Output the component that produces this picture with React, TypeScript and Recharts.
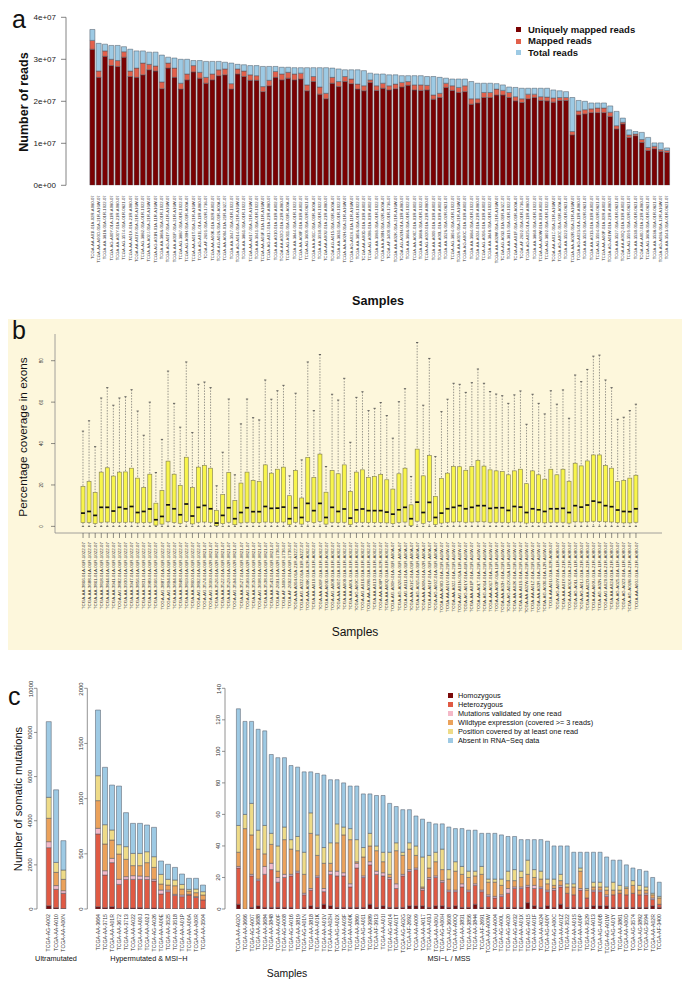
import React from 'react'
import { BarChart, Bar, XAxis, YAxis, Legend } from 'recharts'

const FONT = '"Liberation Sans", Arial, Helvetica, sans-serif'

// ---------------- panel a: read counts per sample (millions) ----------------
const aSamples = [
  'TCGA-AA-A01I-01A-02R-A080-07', 'TCGA-AA-A00O-01A-21R-A16W-07', 'TCGA-AA-3818-01A-01R-1022-07', 'TCGA-AG-A00Y-01A-11R-A080-07', 'TCGA-AA-A01Y-01A-21R-A080-07',
  'TCGA-AG-3574-01A-01R-0821-07', 'TCGA-AA-A01X-01A-21R-A080-07', 'TCGA-AA-A01V-01A-21R-A16W-07', 'TCGA-AG-3882-01A-01R-1022-07', 'TCGA-AA-A02J-01A-21R-A16W-07',
  'TCGA-AG-A01N-01A-11R-A16W-07', 'TCGA-AA-3866-01A-01R-1022-07', 'TCGA-AG-A01Y-01A-41R-A16W-07', 'TCGA-AA-A01P-01A-21R-A16W-07', 'TCGA-AG-3887-01A-01R-1022-07',
  'TCGA-AG-A00H-01A-01R-A00A-07', 'TCGA-AA-A01T-01A-21R-A16W-07', 'TCGA-AG-A01L-01A-11R-A080-07', 'TCGA-AF-2691-01A-02R-1736-07', 'TCGA-AA-A00K-01A-02R-A002-07',
  'TCGA-AG-A026-01A-01R-A00A-07', 'TCGA-AA-A004-01A-21R-A32Z-07', 'TCGA-AA-3947-01A-01R-1022-07', 'TCGA-AG-A014-01A-21R-A16W-07', 'TCGA-AA-3861-01A-01R-1022-07',
  'TCGA-AA-A017-01A-21R-A16W-07', 'TCGA-AA-3941-01A-01R-1022-07', 'TCGA-AA-A03F-01A-11R-A16W-07', 'TCGA-AG-A01J-01A-21R-A080-07', 'TCGA-AA-A010-01A-01R-A002-07',
  'TCGA-AA-A02O-01A-21R-A080-07', 'TCGA-AG-A011-01A-01R-A00A-07', 'TCGA-AA-3844-01A-01R-1022-07', 'TCGA-AA-A00F-01A-01R-A002-07', 'TCGA-AG-3609-01A-02R-0821-07',
  'TCGA-AA-A01C-01A-01R-A00A-07', 'TCGA-AA-3930-01A-01R-1022-07', 'TCGA-AA-A00U-01A-21R-A080-07', 'TCGA-AG-A015-01A-01R-A00A-07', 'TCGA-AA-3831-01A-01R-1022-07',
  'TCGA-AA-A02H-01A-21R-A16W-07', 'TCGA-AG-A02X-01A-11R-A16W-07', 'TCGA-AA-3856-01A-01R-1022-07', 'TCGA-AA-A00D-01A-01R-A002-07', 'TCGA-AG-A008-01A-01R-A002-07',
  'TCGA-AA-3989-01A-01R-1022-07', 'TCGA-AA-A00N-01A-02R-A00A-07', 'TCGA-AF-3400-01A-01R-1736-07', 'TCGA-AA-A02K-01A-21R-A16W-07', 'TCGA-AG-A02N-01A-11R-A080-07',
  'TCGA-AA-3666-01A-01R-1022-07', 'TCGA-AA-A00Z-01A-01R-A002-07', 'TCGA-AA-3688-01A-01R-1022-07', 'TCGA-AG-A020-01A-21R-A080-07', 'TCGA-AA-A009-01A-01R-A002-07',
  'TCGA-AA-A00L-01A-01R-A002-07', 'TCGA-AA-3526-01A-02R-0821-07', 'TCGA-AG-3894-01A-01R-1022-07', 'TCGA-AA-A01S-01A-21R-A16W-07', 'TCGA-AG-A00C-01A-01R-A002-07',
  'TCGA-AA-3684-01A-01R-1022-07', 'TCGA-AA-A024-01A-21R-A080-07', 'TCGA-AG-A016-01A-01R-A002-07', 'TCGA-AA-3848-01A-01R-1022-07', 'TCGA-AA-A02W-01A-21R-A16W-07',
  'TCGA-AG-A032-01A-01R-A32Z-07', 'TCGA-AA-3819-01A-01R-1022-07', 'TCGA-AA-A01F-01A-01R-A00A-07', 'TCGA-AF-2692-01A-01R-1736-07', 'TCGA-AG-A025-01A-11R-A080-07',
  'TCGA-AA-3860-01A-01R-1022-07', 'TCGA-AA-A00W-01A-01R-A002-07', 'TCGA-AG-3892-01A-01R-1022-07', 'TCGA-AA-A01Z-01A-21R-A16W-07', 'TCGA-AG-A00Z-01A-01R-A00A-07',
  'TCGA-AA-3522-01A-01R-0821-07', 'TCGA-AA-A02R-01A-21R-A16W-07', 'TCGA-AG-A023-01A-11R-A080-07', 'TCGA-AA-3529-01A-02R-0821-07', 'TCGA-AA-A013-01A-01R-A002-07',
  'TCGA-AG-3594-01A-02R-0821-07', 'TCGA-AA-A00P-01A-02R-A002-07', 'TCGA-AG-A01W-01A-21R-A080-07', 'TCGA-AA-3527-01A-01R-0821-07', 'TCGA-AA-A00Q-01A-01R-A002-07',
  'TCGA-AG-3599-01A-02R-0821-07', 'TCGA-AA-3530-01A-01R-0821-07', 'TCGA-AA-A00J-01A-21R-A080-07', 'TCGA-AG-3608-01A-01R-0821-07', 'TCGA-AA-3538-01A-01R-0821-07',
  'TCGA-AG-A036-01A-12R-A16W-07', 'TCGA-AA-3543-01A-01R-0821-07',
]
const aTotal = [
  37.1, 33.8, 33.6, 33.3, 33.3, 33.0, 32.4, 32.0, 32.0, 31.7,
  31.7, 31.0, 30.5, 30.3, 30.0, 30.0, 29.7, 29.7, 29.5, 29.5,
  29.5, 29.3, 29.1, 28.8, 28.7, 28.5, 28.5, 28.3, 28.3, 28.3,
  28.1, 28.1, 28.0, 28.0, 28.0, 28.0, 28.0, 28.0, 27.9, 27.7,
  27.5, 27.5, 27.5, 27.3, 26.7, 26.5, 26.5, 26.3, 26.3, 26.1,
  26.1, 26.1, 26.1, 25.9, 25.9, 25.7, 25.5, 25.3, 25.3, 25.3,
  24.7, 24.3, 24.3, 24.3, 24.2, 23.9, 23.4, 23.3, 23.1, 23.1,
  23.1, 23.1, 23.1, 22.7, 22.5, 22.3, 20.9, 20.2, 20.0, 19.6,
  19.6, 19.6, 18.9, 17.6, 16.0, 13.2, 12.8, 12.6, 11.4, 10.1,
  10.1, 8.9,
]
const aMapped = [
  34.5, 27.2, 32.0, 30.0, 29.7, 31.8, 27.2, 27.9, 29.1, 28.8,
  28.4, 24.6, 29.1, 27.9, 24.3, 26.5, 28.5, 26.9, 25.7, 26.5,
  27.5, 27.7, 24.2, 27.7, 27.2, 26.3, 26.1, 23.5, 25.0, 27.1,
  26.5, 26.9, 26.5, 26.7, 23.9, 25.9, 23.4, 21.9, 25.7, 24.7,
  25.9, 25.3, 24.1, 23.7, 25.1, 23.7, 24.3, 23.7, 24.1, 24.5,
  24.7, 23.9, 23.9, 23.8, 21.5, 21.9, 24.3, 23.7, 23.3, 23.7,
  20.6, 20.6, 22.1, 22.1, 22.9, 22.6, 22.1, 21.1, 20.6, 21.7,
  21.7, 21.1, 21.0, 20.8, 20.9, 20.9, 12.8, 17.7, 18.0, 18.2,
  18.4, 18.4, 17.4, 14.2, 15.0, 12.0, 12.2, 10.9, 9.0, 9.3,
  8.5, 8.3,
]
const aUnique = [
  32.4, 25.7, 30.7, 28.5, 28.3, 30.5, 25.9, 25.7, 26.3, 27.5,
  27.2, 23.0, 27.9, 25.7, 22.9, 25.1, 27.0, 25.5, 24.3, 25.1,
  26.1, 26.3, 22.9, 26.5, 25.9, 25.0, 25.0, 22.3, 23.7, 25.7,
  25.1, 25.5, 25.1, 25.3, 22.5, 24.7, 21.7, 20.6, 24.3, 23.5,
  24.7, 24.2, 22.9, 22.5, 24.5, 22.6, 23.1, 22.7, 23.0, 23.4,
  23.8, 22.7, 22.6, 22.7, 20.5, 20.9, 23.3, 22.6, 22.1, 22.3,
  19.3, 19.6, 20.9, 20.9, 21.5, 21.5, 20.9, 20.1, 19.7, 20.6,
  20.9, 20.2, 20.1, 19.8, 20.2, 20.2, 12.0, 16.8, 17.0, 17.3,
  17.3, 17.3, 16.4, 13.4, 14.6, 11.4, 11.8, 10.2, 8.3, 8.7,
  8.1, 7.8,
]
const aSeries = ['Uniquely mapped reads', 'Mapped reads', 'Total reads']
const aColors = ['#7a0102', '#e2604b', '#9dcae4']
const aTicks = [0, 1e7, 2e7, 3e7, 4e7]

// ---------------- panel b: coverage boxplots ----------------
const bSamples = [
  'TCGA-AA-3866-01A-01R-1022-07', 'TCGA-AA-3688-01A-01R-1022-07', 'TCGA-AA-3861-01A-01R-1022-07', 'TCGA-AA-3818-01A-01R-1022-07', 'TCGA-AA-3844-01A-01R-1022-07',
  'TCGA-AA-3941-01A-01R-1022-07', 'TCGA-AG-3882-01A-01R-1022-07', 'TCGA-AA-3930-01A-01R-1022-07', 'TCGA-AA-3947-01A-01R-1022-07', 'TCGA-AA-3856-01A-01R-1022-07',
  'TCGA-AA-3831-01A-01R-1022-07', 'TCGA-AA-3989-01A-01R-1022-07', 'TCGA-AA-3666-01A-01R-1022-07', 'TCGA-AG-3887-01A-01R-1022-07', 'TCGA-AG-3894-01A-01R-1022-07',
  'TCGA-AA-3684-01A-01R-1022-07', 'TCGA-AA-3848-01A-01R-1022-07', 'TCGA-AA-3819-01A-01R-1022-07', 'TCGA-AA-3860-01A-01R-1022-07', 'TCGA-AG-3892-01A-01R-1022-07',
  'TCGA-AG-3574-01A-01R-0821-07', 'TCGA-AG-3609-01A-02R-0821-07', 'TCGA-AA-3526-01A-02R-0821-07', 'TCGA-AA-3522-01A-01R-0821-07', 'TCGA-AA-3529-01A-02R-0821-07',
  'TCGA-AG-3594-01A-02R-0821-07', 'TCGA-AA-3527-01A-01R-0821-07', 'TCGA-AG-3599-01A-02R-0821-07', 'TCGA-AA-3530-01A-01R-0821-07', 'TCGA-AG-3608-01A-01R-0821-07',
  'TCGA-AA-3538-01A-01R-0821-07', 'TCGA-AA-3543-01A-01R-0821-07', 'TCGA-AF-2691-01A-02R-1736-07', 'TCGA-AF-3400-01A-01R-1736-07', 'TCGA-AF-2692-01A-01R-1736-07',
  'TCGA-AA-A004-01A-21R-A32Z-07', 'TCGA-AG-A032-01A-01R-A32Z-07', 'TCGA-AA-A00K-01A-02R-A002-07', 'TCGA-AA-A010-01A-01R-A002-07', 'TCGA-AA-A00F-01A-01R-A002-07',
  'TCGA-AA-A00D-01A-01R-A002-07', 'TCGA-AG-A008-01A-01R-A002-07', 'TCGA-AA-A00Z-01A-01R-A002-07', 'TCGA-AA-A009-01A-01R-A002-07', 'TCGA-AA-A00L-01A-01R-A002-07',
  'TCGA-AG-A00C-01A-01R-A002-07', 'TCGA-AG-A016-01A-01R-A002-07', 'TCGA-AA-A00W-01A-01R-A002-07', 'TCGA-AA-A013-01A-01R-A002-07', 'TCGA-AA-A00P-01A-02R-A002-07',
  'TCGA-AA-A00Q-01A-01R-A002-07', 'TCGA-AG-A00H-01A-01R-A00A-07', 'TCGA-AG-A026-01A-01R-A00A-07', 'TCGA-AG-A011-01A-01R-A00A-07', 'TCGA-AA-A01C-01A-01R-A00A-07',
  'TCGA-AG-A015-01A-01R-A00A-07', 'TCGA-AA-A00N-01A-02R-A00A-07', 'TCGA-AA-A01F-01A-01R-A00A-07', 'TCGA-AG-A00Z-01A-01R-A00A-07', 'TCGA-AA-A00O-01A-21R-A16W-07',
  'TCGA-AA-A01V-01A-21R-A16W-07', 'TCGA-AA-A02J-01A-21R-A16W-07', 'TCGA-AG-A01N-01A-11R-A16W-07', 'TCGA-AG-A01Y-01A-41R-A16W-07', 'TCGA-AA-A01P-01A-21R-A16W-07',
  'TCGA-AA-A01T-01A-21R-A16W-07', 'TCGA-AG-A014-01A-21R-A16W-07', 'TCGA-AA-A017-01A-21R-A16W-07', 'TCGA-AA-A03F-01A-11R-A16W-07', 'TCGA-AA-A02H-01A-21R-A16W-07',
  'TCGA-AG-A02X-01A-11R-A16W-07', 'TCGA-AA-A02K-01A-21R-A16W-07', 'TCGA-AA-A01S-01A-21R-A16W-07', 'TCGA-AA-A02W-01A-21R-A16W-07', 'TCGA-AA-A01Z-01A-21R-A16W-07',
  'TCGA-AA-A02R-01A-21R-A16W-07', 'TCGA-AG-A036-01A-12R-A16W-07', 'TCGA-AA-A01I-01A-02R-A080-07', 'TCGA-AG-A00Y-01A-11R-A080-07', 'TCGA-AA-A01Y-01A-21R-A080-07',
  'TCGA-AA-A01X-01A-21R-A080-07', 'TCGA-AG-A01L-01A-11R-A080-07', 'TCGA-AG-A01J-01A-21R-A080-07', 'TCGA-AA-A02O-01A-21R-A080-07', 'TCGA-AA-A00U-01A-21R-A080-07',
  'TCGA-AG-A02N-01A-11R-A080-07', 'TCGA-AG-A020-01A-21R-A080-07', 'TCGA-AA-A024-01A-21R-A080-07', 'TCGA-AG-A025-01A-11R-A080-07', 'TCGA-AG-A023-01A-11R-A080-07',
  'TCGA-AG-A01W-01A-21R-A080-07', 'TCGA-AA-A00J-01A-21R-A080-07',
]
const bUpper = [
  46, 51, 38.5, 62, 67, 58.5, 62, 62.6, 66, 55.7,
  44, 60, 26, 42, 75, 59.4, 47.9, 79.4, 45.3, 68.6,
  69.7, 67, 19.6, 35.8, 61.5, 24.9, 49.5, 61.5, 52.5, 51.4,
  70.7, 61.4, 65.5, 68.1, 24.4, 64.3, 32.1, 79.4, 55.9, 83,
  28.9, 63.8, 61, 71.5, 40.6, 62.3, 65, 55.9, 57, 59.8,
  53.5, 42.6, 60.2, 66.5, 24.1, 88.8, 58.5, 81.1, 33.7, 55.4,
  61.4, 69.1, 68.6, 64.7, 69.4, 76, 69.1, 65.1, 63.9, 63.1,
  59.4, 63.5, 65.4, 49.3, 63.8, 59.4, 54.3, 65.5, 59, 65.9,
  52.2, 73.1, 69.9, 75.8, 82.2, 82.7, 70.7, 67, 51.7, 52.7,
  55.9, 59,
]
const bQ3 = [
  19.3, 21.7, 16.4, 26.2, 28.3, 24.3, 26.2, 26.3, 28.1, 23.3,
  18.8, 25.2, 11.2, 17.3, 31.5, 25.2, 19.8, 33.4, 18.8, 28.6,
  29.4, 28.1, 7.7, 15.3, 26, 12.4, 20.9, 26.2, 22.2, 21.7,
  29.7, 25.7, 27.6, 28.6, 14.8, 27, 13.7, 33.3, 23.6, 34.9,
  16.5, 27, 25.4, 29.7, 16.9, 26.2, 27.3, 23.6, 24.1, 25.1,
  22.5, 18, 25.4, 28.1, 10.4, 37.3, 24.4, 34.2, 14.5, 23.1,
  25.7, 28.9, 28.8, 27.1, 28.9, 31.8, 29.1, 27.3, 26.8, 26.5,
  24.9, 26.8, 27.6, 20.6, 26.8, 24.9, 22.8, 27.6, 24.9, 27.6,
  21.8, 30.5, 29.2, 31.6, 34.5, 34.5, 29.4, 28.1, 21.7, 22.2,
  23.3, 24.7,
]
const bMedian = [
  6.4, 7.2, 5.3, 9.2, 9.2, 7.4, 9.2, 8.5, 9.6, 6.7,
  7.2, 8.4, 3.2, 4.8, 10.4, 8.5, 5.6, 10.8, 5, 9.2,
  10.1, 8.5, 1.6, 5.3, 9, 3.7, 6.7, 9, 7.1, 7.1,
  9.6, 8.7, 8.8, 9.3, 3.7, 9, 4.3, 11.1, 7.6, 11.1,
  4.3, 9.2, 7.2, 8.4, 4, 8, 8.4, 7.6, 7.6, 7.6,
  6.9, 5.9, 8, 9.2, 3.7, 11.7, 6.7, 11.6, 4.3, 6.4,
  8.5, 9.2, 10, 8.5, 9.2, 10, 10, 8.7, 9, 9,
  7.7, 9.6, 9.3, 6.7, 8.5, 8, 7.2, 8.5, 8.5, 8.7,
  6.7, 10, 9.3, 10.3, 12.2, 11.6, 10, 9.5, 7.9, 7.2,
  7.1, 8.5,
]
const bQ1 = [
  1.8, 1.9, 1.4, 2, 2.1, 1.9, 2, 2, 2.1, 1.7,
  1.8, 2, 0.6, 1.1, 2.2, 1.9, 1.5, 2.3, 1.2, 2,
  2.1, 2, 0.3, 1.3, 2, 0.8, 1.7, 2, 1.8, 1.8,
  2.1, 2, 2, 2.1, 0.9, 2, 1.1, 2.3, 1.8, 2.4,
  1.1, 2, 1.8, 2, 0.9, 1.9, 2, 1.8, 1.8, 1.9,
  1.7, 1.3, 1.9, 2.1, 0.5, 2.5, 1.5, 2.4, 0.9, 1.6,
  2, 2.1, 2.2, 2, 2.1, 2.2, 2.2, 2, 2, 2,
  1.8, 2.1, 2.1, 1.6, 2, 1.9, 1.7, 2, 2, 2,
  1.6, 2.2, 2.1, 2.2, 2.5, 2.4, 2.2, 2.1, 1.8, 1.7,
  1.7, 2,
]
const bLower = 0 // every lower whisker sits at 0 %
const bTicks = [0, 20, 40, 60, 80]

// ---------------- panel c: somatic mutations ----------------
const cCategories = [
  'Homozygous',
  'Heterozygous',
  'Mutations validated by one read',
  'Wildtype expression (covered >= 3 reads)',
  'Position covered by at least one read',
  'Absent in RNA\u2212Seq data',
]
const cColors = ['#7b0a0a', '#e05a44', '#f4b9c8', '#eba25b', '#eedb88', '#9ecae4']

const uSamples = ['TCGA-AG-A002', 'TCGA-AA-A010', 'TCGA-AA-A00N']
const uHomo = [150, 60, 20]
const uHet = [2630, 830, 690]
const uOne = [270, 170, 120]
const uWild = [1060, 600, 514]
const uCov = [950, 450, 423]
const uAbs = [3430, 3290, 1329]

const hSamples = [
  'TCGA-AA-3664', 'TCGA-AA-3715', 'TCGA-AA-A01R', 'TCGA-AA-3672', 'TCGA-AA-3713', 'TCGA-AA-A022', 'TCGA-AA-A00J', 'TCGA-AA-A02J',
  'TCGA-AG-A026', 'TCGA-AA-A00E', 'TCGA-AA-3525', 'TCGA-AA-3518', 'TCGA-AA-A01P', 'TCGA-AA-A00A', 'TCGA-AA-A00R', 'TCGA-AA-3504',
]
const hHomo = [21, 12, 21, 6, 9, 9, 12, 6, 9, 6, 3, 3, 3, 6, 3, 6]
const hHet = [659, 296, 399, 217, 260, 260, 257, 263, 245, 130, 154, 121, 109, 121, 103, 76]
const hOne = [51, 39, 39, 46, 24, 33, 30, 24, 15, 36, 15, 9, 15, 6, 6, 0]
const hWild = [251, 242, 166, 229, 157, 91, 94, 127, 108, 54, 45, 78, 54, 30, 36, 45]
const hCov = [226, 175, 91, 85, 115, 111, 111, 99, 97, 88, 52, 52, 42, 15, 33, 30]
const hAbs = [595, 520, 407, 531, 308, 272, 272, 242, 266, 121, 136, 114, 94, 100, 97, 60]

const mSamples = [
  'TCGA-AA-A02O', 'TCGA-AA-3666', 'TCGA-AG-A007', 'TCGA-AA-3688', 'TCGA-AA-3684', 'TCGA-AA-3848', 'TCGA-AA-A00F', 'TCGA-AG-A008', 'TCGA-AG-A016', 'TCGA-AA-3819',
  'TCGA-AG-A01N', 'TCGA-AA-3818', 'TCGA-AA-A01K', 'TCGA-AA-A01V', 'TCGA-AA-A02H', 'TCGA-AG-A02X', 'TCGA-AA-A03F', 'TCGA-AA-A00K', 'TCGA-AA-3860', 'TCGA-AG-A011',
  'TCGA-AA-3989', 'TCGA-AF-3913', 'TCGA-AA-A01I', 'TCGA-AG-A014', 'TCGA-AA-A01T', 'TCGA-AG-A02G', 'TCGA-AF-2692', 'TCGA-AA-A009', 'TCGA-AA-A017', 'TCGA-AA-A03J',
  'TCGA-AA-A00U', 'TCGA-AG-A00H', 'TCGA-AG-3608', 'TCGA-AA-A00Q', 'TCGA-AA-3831', 'TCGA-AA-3856', 'TCGA-AA-3844', 'TCGA-AF-2691', 'TCGA-AA-A00W', 'TCGA-AA-A004',
  'TCGA-AG-A00L', 'TCGA-AG-A020', 'TCGA-AG-A032', 'TCGA-AA-A01X', 'TCGA-AG-A015', 'TCGA-AA-A01F', 'TCGA-AA-A024', 'TCGA-AG-A00Y', 'TCGA-AG-A00C', 'TCGA-AA-A01Z',
  'TCGA-AA-3522', 'TCGA-AA-A01S', 'TCGA-AA-A00P', 'TCGA-AA-3529', 'TCGA-AA-A013', 'TCGA-AG-A00B', 'TCGA-AG-A01W', 'TCGA-AG-A01Y', 'TCGA-AA-3861', 'TCGA-AA-A00D',
  'TCGA-AG-3574', 'TCGA-AG-3892', 'TCGA-AG-3594', 'TCGA-AA-A02R', 'TCGA-AF-3400',
]
const mHomo = [
  3, 0, 1, 2, 1, 1, 1, 1, 1, 0, 1, 2, 1, 3, 2, 1, 1, 1, 1, 1,
  3, 1, 2, 1, 1, 1, 2, 2, 2, 1, 2, 2, 1, 2, 1, 1, 3, 1, 1, 1,
  1, 1, 1, 1, 4, 2, 1, 2, 1, 3, 1, 1, 1, 1, 2, 2, 2, 1, 1, 1,
  1, 1, 1, 2, 1,
]
const mHet = [
  23, 0, 20, 16, 21, 24, 16, 19, 20, 23, 8, 10, 19, 8, 20, 20, 20, 13, 25, 19,
  25, 21, 19, 18, 12, 20, 22, 23, 10, 18, 18, 15, 10, 9, 13, 10, 12, 10, 7, 6,
  7, 9, 12, 12, 10, 11, 12, 9, 11, 11, 9, 8, 11, 6, 9, 9, 6, 8, 9, 8,
  9, 8, 8, 4, 2,
]
const mOne = [
  1, 0, 1, 1, 5, 4, 3, 2, 1, 1, 1, 1, 1, 2, 2, 3, 2, 2, 3, 1,
  2, 2, 2, 1, 3, 1, 1, 1, 1, 1, 1, 1, 1, 1, 2, 1, 1, 1, 1, 1,
  1, 3, 1, 1, 1, 2, 1, 1, 1, 1, 0, 0, 1, 0, 1, 1, 1, 0, 0, 0,
  0, 0, 1, 1, 0,
]
const mWild = [
  9, 51, 25, 19, 8, 12, 4, 22, 16, 13, 12, 35, 13, 16, 5, 18, 24, 28, 1, 12,
  10, 13, 7, 2, 21, 12, 13, 8, 1, 6, 9, 7, 7, 12, 6, 8, 5, 10, 8, 9,
  6, 5, 4, 6, 7, 5, 5, 4, 2, 3, 4, 5, 11, 5, 2, 2, 3, 3, 2, 4,
  5, 3, 2, 2, 4,
]
const mCov = [
  17, 9, 20, 12, 18, 7, 16, 8, 6, 9, 14, 13, 13, 10, 13, 12, 5, 7, 14, 6,
  8, 3, 6, 14, 5, 2, 4, 6, 19, 8, 6, 13, 6, 6, 5, 4, 3, 5, 2, 2,
  4, 6, 7, 4, 9, 5, 5, 3, 4, 4, 2, 2, 2, 1, 3, 3, 2, 5, 3, 1,
  3, 3, 2, 1, 1,
]
const mAbs = [
  74, 59, 52, 64, 60, 50, 56, 44, 47, 44, 51, 26, 39, 46, 40, 28, 28, 27, 34, 34,
  25, 32, 36, 31, 23, 27, 21, 19, 24, 21, 18, 16, 27, 21, 24, 26, 26, 21, 29, 29,
  28, 22, 21, 20, 13, 19, 20, 24, 21, 18, 24, 20, 10, 23, 19, 19, 19, 14, 16, 14,
  8, 10, 10, 10, 9,
]

const uTicks = [0, 2000, 4000, 6000, 8000, 10000]
const hTicks = [0, 500, 1000, 1500, 2000]
const mTicks = [0, 20, 40, 60, 80, 100, 120, 140]

// ---------------- tables for the library ----------------
const aRows = aSamples.map((s, i) => ({
  sample: s,
  unique: aUnique[i] * 1e6,
  mapped: (aMapped[i] - aUnique[i]) * 1e6,
  total: (aTotal[i] - aMapped[i]) * 1e6,
}))
const aKeys = ['unique', 'mapped', 'total']

const bRows = bSamples.map((s, i) => ({
  sample: s,
  lower: bLower,
  q1: bQ1[i],
  median: bMedian[i],
  q3: bQ3[i],
  upper: bUpper[i],
}))

function mutRows(samples: string[], cols: number[][]) {
  return samples.map((s, i) => {
    const row: any = { sample: s }
    cols.forEach((c, k) => (row['c' + k] = c[i]))
    return row
  })
}
const uRows = mutRows(uSamples, [uHomo, uHet, uOne, uWild, uCov, uAbs])
const hRows = mutRows(hSamples, [hHomo, hHet, hOne, hWild, hCov, hAbs])
const mRows = mutRows(mSamples, [mHomo, mHet, mOne, mWild, mCov, mAbs])

// ---------------- small drawing helpers ----------------
function VLabel(props: any) {
  const { x, y, payload, fs } = props
  const bx = x + fs * 0.35
  return (
    <text x={bx} y={y} transform={`rotate(-90, ${bx}, ${y})`} textAnchor="end" fontSize={fs} fill="#333" fontFamily={FONT}>
      {payload.value}
    </text>
  )
}

function YVLabel(props: any) {
  const { x, y, payload, fs } = props
  return (
    <text x={x} y={y} transform={`rotate(-90, ${x}, ${y})`} textAnchor="middle" fontSize={fs} fill="#333" fontFamily={FONT}>
      {payload.value}
    </text>
  )
}

function BoxShape(props: any) {
  const { x, y, width, height, payload } = props
  if (!payload || !isFinite(y) || !isFinite(height)) return null
  const top = Math.min(y, y + height)
  const bottom = Math.max(y, y + height)
  const at = (v: number) => bottom - ((bottom - top) * (v - payload.lower)) / (payload.upper - payload.lower)
  const cx = x + width / 2
  const cap = width * 0.28
  const yQ3 = at(payload.q3)
  const yQ1 = at(payload.q1)
  const yMed = at(payload.median)
  return (
    <g>
      <line x1={cx} x2={cx} y1={top} y2={yQ3} stroke="#555" strokeWidth={0.6} strokeDasharray="1.5 1.3" />
      <line x1={cx - cap} x2={cx + cap} y1={top} y2={top} stroke="#444" strokeWidth={0.8} />
      <line x1={cx} x2={cx} y1={yQ1} y2={bottom} stroke="#555" strokeWidth={0.6} strokeDasharray="1.5 1.3" />
      <line x1={cx - cap} x2={cx + cap} y1={bottom} y2={bottom} stroke="#444" strokeWidth={0.8} />
      <rect x={x} y={yQ3} width={width} height={Math.max(0.5, yQ1 - yQ3)} fill="#f8f54c" stroke="#7d7a4e" strokeWidth={0.6} />
      <line x1={x} x2={x + width} y1={yMed} y2={yMed} stroke="#111" strokeWidth={1.7} />
    </g>
  )
}

function SwatchLegend({ names, colors, fs, rowH, box, gap, bold }: any) {
  return (
    <div style={{ fontFamily: FONT, fontSize: fs, fontWeight: bold ? 'bold' : 'normal', color: '#111', lineHeight: 1 }}>
      {names.map((n: string, i: number) => (
        <div key={n} style={{ display: 'flex', alignItems: 'center', height: rowH, whiteSpace: 'nowrap' }}>
          <span style={{ display: 'inline-block', width: box, height: box, background: colors[i], marginRight: gap }} />
          {n}
        </div>
      ))}
    </div>
  )
}

function MutationChart(props: any) {
  const { rows, left, width, yMax, ticks, mLeft, mRight, padL, padR, legend } = props
  return (
    <div style={{ position: 'absolute', left, top: 680 }}>
      <BarChart width={width} height={280} data={rows} margin={{ top: 8.3, right: mRight, left: mLeft, bottom: 6 }} barCategoryGap="17%">
        <XAxis
          dataKey="sample"
          interval={0}
          height={45}
          padding={{ left: padL, right: padR }}
          axisLine={false}
          tickLine={false}
          tickSize={0}
          tickMargin={5}
          tick={(p: any) => <VLabel {...p} fs={5.2} />}
        />
        <YAxis
          domain={[0, yMax]}
          ticks={ticks}
          allowDataOverflow
          width={22}
          axisLine={{ stroke: '#777', strokeWidth: 0.8 }}
          tickLine={{ stroke: '#777', strokeWidth: 0.8 }}
          tickSize={3}
          tickMargin={1.5}
          tick={(p: any) => <YVLabel {...p} fs={6} />}
        />
        {cCategories.map((c, k) => (
          <Bar key={c} dataKey={'c' + k} name={c} stackId="s" fill={cColors[k]} stroke="#505560" strokeWidth={0.5} isAnimationActive={false} />
        ))}
        {legend ? (
          <Legend
            layout="vertical"
            align="center"
            verticalAlign="middle"
            wrapperStyle={{ left: 258, top: 11.5, width: 200, height: 54 }}
            content={() => <SwatchLegend names={cCategories} colors={cColors} fs={7.3} rowH={8.9} box={5} gap={5} />}
          />
        ) : null}
      </BarChart>
    </div>
  )
}

const sci = (v: number) => (v === 0 ? '0e+00' : `${v / 1e7}e+07`)

export default function App() {
  return (
    <div style={{ position: 'absolute', left: 0, top: 0, width: 682, height: 994, background: '#fff', fontFamily: FONT, overflow: 'hidden' }}>
      {/* panel a */}
      <div style={{ position: 'absolute', left: 0, top: 0 }}>
        <BarChart width={682} height={320} data={aRows} margin={{ top: 17.3, right: 8, left: 26, bottom: 14 }} barCategoryGap="14%">
          <XAxis
            dataKey="sample"
            interval={0}
            height={120.7}
            padding={{ left: 23, right: 4 }}
            axisLine={false}
            tickLine={false}
            tickSize={4}
            tickMargin={6}
            tick={(p: any) => <VLabel {...p} fs={4.2} />}
          />
          <YAxis
            domain={[0, 4e7]}
            ticks={aTicks}
            tickFormatter={sci}
            allowDataOverflow
            width={40}
            axisLine={{ stroke: '#666', strokeWidth: 0.8 }}
            tickLine={{ stroke: '#666', strokeWidth: 0.8 }}
            tickSize={5}
            tickMargin={5}
            tick={{ fontSize: 8, fill: '#222', fontFamily: FONT }}
          />
          {aKeys.map((k, i) => (
            <Bar key={k} dataKey={k} name={aSeries[i]} stackId="a" fill={aColors[i]} stroke="#4b5560" strokeWidth={0.5} isAnimationActive={false} />
          ))}
          <Legend
            layout="vertical"
            align="center"
            verticalAlign="middle"
            wrapperStyle={{ left: 516, top: 23.5, width: 160, height: 36 }}
            content={() => <SwatchLegend names={aSeries} colors={aColors} fs={9.5} rowH={11.7} box={5} gap={7} bold />}
          />
        </BarChart>
      </div>

      {/* panel b */}
      <div style={{ position: 'absolute', left: 8, top: 319, width: 674, height: 331, background: '#fdf7dc' }} />
      <div style={{ position: 'absolute', left: 0, top: 300 }}>
        <BarChart width={682} height={340} data={bRows} margin={{ top: 34, right: 20, left: 15, bottom: 7 }} barCategoryGap="16%">
          <XAxis
            dataKey="sample"
            interval={0}
            height={100}
            padding={{ left: 25, right: 23 }}
            axisLine={{ stroke: '#8a8a8a', strokeWidth: 0.8 }}
            tickLine={{ stroke: '#444', strokeWidth: 0.6 }}
            tickSize={5}
            tickMargin={4}
            tick={(p: any) => <VLabel {...p} fs={4.4} />}
          />
          <XAxis xAxisId="top" orientation="top" dataKey="sample" height={0} tick={false} tickLine={false} axisLine={{ stroke: '#8a8a8a', strokeWidth: 0.8 }} />
          <YAxis
            domain={[-3.2, 92.9]}
            ticks={bTicks}
            allowDataOverflow
            width={40}
            axisLine={{ stroke: '#8a8a8a', strokeWidth: 0.8 }}
            tickLine={{ stroke: '#444', strokeWidth: 0.6 }}
            tickSize={4}
            tickMargin={7.5}
            tick={(p: any) => <YVLabel {...p} fs={4.6} />}
          />
          <YAxis yAxisId="right" orientation="right" width={0} domain={[0, 1]} tick={false} tickLine={false} axisLine={{ stroke: '#8a8a8a', strokeWidth: 0.8 }} />
          <Bar dataKey={(d: any) => [d.lower, d.upper]} shape={(p: any) => <BoxShape {...p} />} isAnimationActive={false} />
        </BarChart>
      </div>

      {/* panel c */}
      <MutationChart rows={uRows} left={0} width={75} yMax={10000} ticks={uTicks} mLeft={15} mRight={5} padL={8} padR={3} />
      <MutationChart rows={hRows} left={50} width={170} yMax={2000} ticks={hTicks} mLeft={15.3} mRight={10} padL={7} padR={3.7} />
      <MutationChart rows={mRows} left={190} width={492} yMax={140} ticks={mTicks} mLeft={13} mRight={16} padL={10.3} padR={3.3} legend />

      {/* titles and axis captions */}
      <svg width={682} height={994} style={{ position: 'absolute', left: 0, top: 0, pointerEvents: 'none' }} fontFamily={FONT}>
        <text x={12} y={28} fontSize={25} fill="#111">a</text>
        <text x={28.4} y={102} fontSize={12.5} fontWeight="bold" textAnchor="middle" transform="rotate(-90, 28.4, 102)" fill="#111">Number of reads</text>
        <text x={378} y={304.5} fontSize={12.6} fontWeight="bold" textAnchor="middle" fill="#111">Samples</text>

        <text x={12} y={339} fontSize={25} fill="#111">b</text>
        <text x={26.7} y={437} fontSize={11.8} textAnchor="middle" transform="rotate(-90, 26.7, 437)" fill="#111">Percentage coverage in exons</text>
        <text x={355} y={636} fontSize={12} textAnchor="middle" fill="#111">Samples</text>

        <text x={8} y={705} fontSize={25} fill="#111">c</text>
        <text x={21.9} y={799} fontSize={11.1} textAnchor="middle" transform="rotate(-90, 21.9, 799)" fill="#111">Number of somatic mutations</text>
        <text x={56} y={960.5} fontSize={7.3} textAnchor="middle" fill="#111">Ultramutated</text>
        <text x={149} y={960.5} fontSize={7.3} textAnchor="middle" fill="#111">Hypermutated &amp; MSI{'\u2212'}H</text>
        <text x={449} y={960.5} fontSize={7.3} textAnchor="middle" fill="#111">MSI{'\u2212'}L / MSS</text>
        <text x={287} y={976.6} fontSize={10.4} textAnchor="middle" fill="#111">Samples</text>
      </svg>
    </div>
  )
}
